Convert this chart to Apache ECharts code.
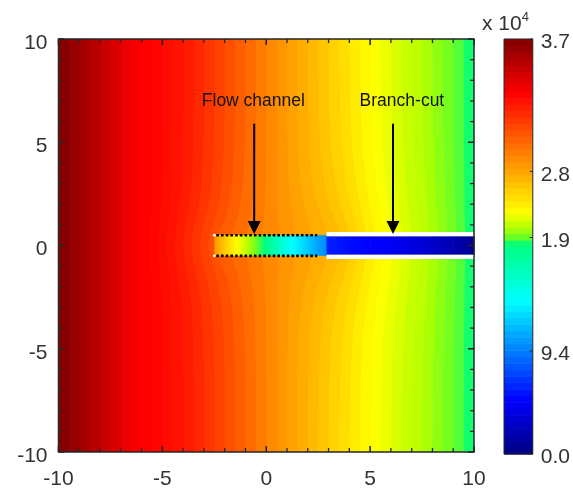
<!DOCTYPE html>
<html>
<head>
<meta charset="utf-8">
<title>Pressure field around a flow channel</title>
<script src="https://cdn.jsdelivr.net/npm/echarts@6/dist/echarts.min.js"></script>
<style>
  html, body { margin: 0; padding: 0; background: #ffffff; }
  #chart { width: 573px; height: 490px; }
</style>
</head>
<body>
<div id="chart"></div>
<script>
// Pressure field (x 10^4) around a flow channel ending in a branch-cut.

// Contour band edges far from the channel (x) and the pressure inside each band
const bandEdgeX = [-10, -9.5, -9, -8.5, -8, -7.5, -7, -6.5, -6, -5.5, -5, -4.5, -4, -3.5, -3, -2.5, -2, -1.5, -1, -0.5,
                   0, 0.5, 1, 1.5, 2, 2.5, 3, 3.5, 4, 4.5, 5, 5.5, 6, 6.5, 7, 7.5, 8, 8.5, 9, 9.5, 10];
const bandValue = [3.68, 3.62, 3.56, 3.49, 3.43, 3.36, 3.30, 3.24, 3.22, 3.20, 3.17, 3.14, 3.11, 3.06, 3.00, 2.94,
                   2.88, 2.82, 2.76, 2.70, 2.64, 2.59, 2.54, 2.49, 2.44, 2.39, 2.34, 2.29, 2.23, 2.18, 2.15, 2.12,
                   2.09, 2.06, 2.04, 2.01, 1.98, 1.95, 1.92, 1.88];

// Distance from the channel axis at which the contour bending is read
const bendY = [0, 0.5, 1, 1.5, 2, 3, 4.5, 6.5, 10];
// Contour edges that bend near the channel, and their x displacement at each bendY
const bentEdgeX = [-5.5, -5, -4.5, -4, -3.5, -3, -2.5, -2, -1.5, -1, -0.5, 0, 0.5, 1, 1.5, 2, 2.5, 3, 3.5, 4,
                   4.5, 5, 5.5, 6, 6.5, 7, 7.5, 8, 8.5, 9, 9.5];
const bentShift = [
  [-0.10, -0.10, -0.08, -0.06, -0.04, -0.02, 0.00, 0, 0],
  [-0.20, -0.18, -0.15, -0.12, -0.08, -0.04, -0.01, 0, 0],
  [-0.30, -0.28, -0.24, -0.18, -0.13, -0.06, -0.02, 0, 0],
  [-0.40, -0.38, -0.32, -0.25, -0.18, -0.08, -0.03, 0, 0],
  [-0.50, -0.47, -0.40, -0.31, -0.22, -0.10, -0.03, 0, 0],
  [-0.60, -0.56, -0.47, -0.36, -0.25, -0.12, -0.04, 0, 0],
  [-0.70, -0.63, -0.52, -0.40, -0.28, -0.13, -0.04, 0, 0],
  [-0.80, -0.72, -0.56, -0.42, -0.30, -0.14, -0.05, 0, 0],
  [-0.90, -0.86, -0.60, -0.42, -0.30, -0.14, -0.05, 0, 0],
  [-0.80, -0.72, -0.50, -0.36, -0.25, -0.12, -0.04, 0, 0],
  [-0.50, -0.45, -0.35, -0.26, -0.18, -0.08, -0.03, 0, 0],
  [-0.20, -0.20, -0.15, -0.10, -0.07, -0.03, -0.01, 0, 0],
  [0.10, 0.10, 0.08, 0.06, 0.04, 0.02, 0.00, 0.00, 0],
  [0.40, 0.40, 0.32, 0.24, 0.17, 0.08, 0.03, 0.00, 0],
  [0.70, 0.70, 0.58, 0.44, 0.32, 0.16, 0.05, 0.00, 0],
  [0.95, 0.95, 0.80, 0.62, 0.46, 0.24, 0.08, 0.02, 0],
  [1.05, 1.05, 0.90, 0.72, 0.55, 0.30, 0.12, 0.03, 0],
  [1.00, 1.00, 0.88, 0.72, 0.57, 0.33, 0.14, 0.04, 0],
  [0.90, 0.90, 0.80, 0.68, 0.55, 0.33, 0.15, 0.05, 0],
  [0.80, 0.80, 0.72, 0.62, 0.51, 0.32, 0.15, 0.05, 0],
  [0.72, 0.72, 0.65, 0.56, 0.47, 0.30, 0.15, 0.05, 0],
  [0.65, 0.65, 0.59, 0.51, 0.43, 0.28, 0.14, 0.05, 0],
  [0.58, 0.58, 0.53, 0.46, 0.39, 0.26, 0.13, 0.05, 0],
  [0.52, 0.52, 0.47, 0.41, 0.35, 0.24, 0.12, 0.04, 0],
  [0.46, 0.46, 0.42, 0.37, 0.31, 0.21, 0.11, 0.04, 0],
  [0.40, 0.40, 0.37, 0.32, 0.27, 0.19, 0.10, 0.04, 0],
  [0.34, 0.34, 0.31, 0.27, 0.23, 0.16, 0.08, 0.03, 0],
  [0.28, 0.28, 0.26, 0.23, 0.19, 0.13, 0.07, 0.03, 0],
  [0.22, 0.22, 0.20, 0.18, 0.15, 0.10, 0.05, 0.02, 0],
  [0.15, 0.15, 0.14, 0.12, 0.10, 0.07, 0.04, 0.01, 0],
  [0.08, 0.08, 0.07, 0.06, 0.05, 0.04, 0.02, 0.01, 0]
];

// Pressure along the flow channel
const chanX   = [-2.5, -2, -1.5, -1, -0.5, 0, 0.5, 1, 1.5, 2, 2.5, 2.9];
const chanVal = [2.59, 2.37, 2.18, 2.05, 1.94, 1.85, 1.63, 1.44, 1.31, 1.18, 1.04, 0.96];
const chanHalfWidth = 0.5;
const chanDotEnd = 2.45;

// Pressure along the branch-cut
const cutX   = [2.9, 4, 5, 6, 7, 8, 9, 10];
const cutVal = [0.59, 0.52, 0.48, 0.44, 0.37, 0.28, 0.19, 0.07];
const cutHalfWidth = 0.45;
const cutWallY = 0.55;

// Annotations
const noteText  = ['Flow channel', 'Branch-cut'];
const noteX     = [-0.62, 6.53];
const noteY     = [7.0, 7.0];
const arrowX    = [-0.58, 6.1];
const arrowTail = [5.9, 5.9];
const arrowTip  = [0.56, 0.56];

// Plot axes
const axisMin = -10, axisMax = 10, labelStep = 5, tickStep = 1;

// Colour bar ticks (x 10^4)
const cbMin = 0, cbMax = 3.7;
const cbTickAt   = [0, 0.92, 1.93, 2.52, 3.7];
const cbTickText = ['0.0', '9.4', '1.9', '2.8', '3.7'];
const cbSteps = 64;

// Colour map: stops in pressure units and their colours
const cmapAt  = [0, 0.481, 0.925, 1.369, 1.869, 1.931, 2.024, 2.157, 2.627, 3.219, 3.7];
const cmapRGB = [[0, 0, 128], [0, 0, 255], [0, 128, 255], [0, 255, 255], [0, 255, 128], [100, 255, 40],
                 [180, 255, 0], [255, 255, 0], [255, 140, 0], [255, 0, 0], [128, 0, 0]];

const FONT = '"Liberation Sans", Arial, sans-serif';
const INK = '#333333';
const FRAME = '#262626';

function colorOf(v) {
  const toStr = c => 'rgb(' + c.map(Math.round).join(',') + ')';
  if (v <= cmapAt[0]) return toStr(cmapRGB[0]);
  for (let i = 1; i < cmapAt.length; i++) {
    if (v <= cmapAt[i]) {
      const t = (v - cmapAt[i - 1]) / (cmapAt[i] - cmapAt[i - 1]);
      const a = cmapRGB[i - 1], b = cmapRGB[i];
      return toStr([0, 1, 2].map(j => a[j] + (b[j] - a[j]) * t));
    }
  }
  return toStr(cmapRGB[cmapRGB.length - 1]);
}

// Horizontal gradient from v0 to v1 that keeps the colour-map stops in between
function gradientOf(v0, v1) {
  const stops = [{ offset: 0, color: colorOf(v0) }];
  const lo = Math.min(v0, v1), hi = Math.max(v0, v1);
  cmapAt.forEach(c => {
    if (c > lo && c < hi) stops.push({ offset: (c - v0) / (v1 - v0), color: colorOf(c) });
  });
  stops.push({ offset: 1, color: colorOf(v1) });
  stops.sort((a, b) => a.offset - b.offset);
  return { type: 'linear', x: 0, y: 0, x2: 1, y2: 0, colorStops: stops };
}

// Points of contour edge e, from the bottom of the plot to the top
function edgePoints(e) {
  const x0 = bandEdgeX[e];
  const bi = bentEdgeX.indexOf(x0);
  const shift = i => (bi >= 0 ? bentShift[bi][i] : 0);
  const pts = [];
  for (let i = bendY.length - 1; i >= 0; i--) pts.push([x0 + shift(i), -bendY[i]]);
  for (let i = 1; i < bendY.length; i++) pts.push([x0 + shift(i), bendY[i]]);
  return pts;
}

function seg(x1, y1, x2, y2, width) {
  return { type: 'line', shape: { x1, y1, x2, y2 }, style: { stroke: FRAME, lineWidth: width, lineCap: 'butt' } };
}

const xRight = bandEdgeX[bandEdgeX.length - 1];
const yTop = bendY[bendY.length - 1];

const labelStyle = { fontFamily: FONT, fontSize: 21, color: INK };
const hidden = { axisLine: { show: false }, axisTick: { show: false }, splitLine: { show: false } };

const option = {
  animation: false,
  backgroundColor: '#ffffff',
  // Colour bar unit
  title: {
    text: '{b|x 10}{s|4}',
    left: 477, top: 6,
    textStyle: {
      fontWeight: 'normal',
      rich: {
        b: { fontFamily: FONT, fontSize: 21, fontWeight: 'normal', color: INK, lineHeight: 24, verticalAlign: 'bottom' },
        s: { fontFamily: FONT, fontSize: 13, fontWeight: 'normal', color: INK, lineHeight: 24, verticalAlign: 'top' }
      }
    }
  },
  grid: [
    { left: 58.5, right: 99, top: 39, bottom: 36 },
    { left: 504, right: 39, top: 39, bottom: 36 }
  ],
  xAxis: [
    Object.assign({ type: 'value', gridIndex: 0, min: axisMin, max: axisMax, interval: labelStep, position: 'bottom',
      axisLabel: Object.assign({ margin: 17 }, labelStyle) }, hidden),
    Object.assign({ type: 'value', gridIndex: 1, min: 0, max: 1, axisLabel: { show: false } }, hidden)
  ],
  yAxis: [
    Object.assign({ type: 'value', gridIndex: 0, min: axisMin, max: axisMax, interval: labelStep, position: 'left',
      axisLabel: Object.assign({ margin: 11, verticalAlign: 'top', lineHeight: 8 }, labelStyle) }, hidden),
    Object.assign({ type: 'value', gridIndex: 1, min: cbMin, max: cbMax, position: 'right',
      axisLabel: Object.assign({
        margin: 8, verticalAlign: 'top', lineHeight: 7, customValues: cbTickAt,
        formatter: v => {
          const i = cbTickAt.findIndex(t => Math.abs(t - v) < 1e-6);
          return i >= 0 ? cbTickText[i] : '';
        }
      }, labelStyle)
    }, hidden)
  ],
  series: [
    {
      // Filled contour bands: each band is painted from its left edge to the right border
      type: 'custom', name: 'pressure', xAxisIndex: 0, yAxisIndex: 0, z: 1, silent: true,
      data: bandValue.map((v, k) => [k, v]),
      renderItem(params, api) {
        const k = api.value(0);
        const pts = edgePoints(k).concat([[xRight, yTop], [xRight, -yTop]]).map(p => api.coord(p));
        return { type: 'polygon', shape: { points: pts }, style: { fill: colorOf(api.value(1)), stroke: null } };
      }
    },
    {
      type: 'custom', name: 'channel', xAxisIndex: 0, yAxisIndex: 0, z: 2, silent: true,
      data: chanX.slice(0, -1).map((x, i) => [x, chanX[i + 1], chanVal[i], chanVal[i + 1]]),
      renderItem(params, api) {
        const p0 = api.coord([api.value(0), chanHalfWidth]);
        const p1 = api.coord([api.value(1), -chanHalfWidth]);
        return { type: 'rect', shape: { x: p0[0], y: p0[1], width: p1[0] - p0[0] + 0.6, height: p1[1] - p0[1] },
                 style: { fill: gradientOf(api.value(2), api.value(3)) } };
      }
    },
    {
      type: 'custom', name: 'branch-cut', xAxisIndex: 0, yAxisIndex: 0, z: 2, silent: true,
      data: cutX.slice(0, -1).map((x, i) => [x, cutX[i + 1], cutVal[i], cutVal[i + 1]]),
      renderItem(params, api) {
        const p0 = api.coord([api.value(0), cutHalfWidth]);
        const p1 = api.coord([api.value(1), -cutHalfWidth]);
        return { type: 'rect', shape: { x: p0[0], y: p0[1], width: p1[0] - p0[0] + 0.6, height: p1[1] - p0[1] },
                 style: { fill: gradientOf(api.value(2), api.value(3)) } };
      }
    },
    {
      // Dotted channel walls
      type: 'custom', name: 'channel walls', xAxisIndex: 0, yAxisIndex: 0, z: 3, silent: true,
      data: [[chanX[0], chanDotEnd, chanHalfWidth], [chanX[0], chanDotEnd, -chanHalfWidth]],
      renderItem(params, api) {
        const a = api.coord([api.value(0), api.value(2)]);
        const b = api.coord([api.value(1), api.value(2)]);
        return { type: 'group', children: [
          { type: 'line', shape: { x1: a[0] + 2, y1: a[1], x2: b[0], y2: b[1] },
            style: { stroke: '#000000', lineWidth: 2.6, lineDash: [2.6, 2.1], lineCap: 'butt' } },
          { type: 'circle', shape: { cx: a[0], cy: a[1], r: 1.4 }, style: { fill: '#ffffff' } }
        ] };
      }
    },
    {
      // White walls of the branch-cut
      type: 'custom', name: 'branch-cut walls', xAxisIndex: 0, yAxisIndex: 0, z: 3, silent: true,
      data: [[cutX[0], cutX[cutX.length - 1], cutWallY], [cutX[0], cutX[cutX.length - 1], -cutWallY]],
      renderItem(params, api) {
        const a = api.coord([api.value(0), api.value(2)]);
        const b = api.coord([api.value(1), api.value(2)]);
        return { type: 'line', shape: { x1: a[0], y1: a[1], x2: b[0], y2: b[1] },
                 style: { stroke: '#ffffff', lineWidth: 4.2, lineCap: 'butt' } };
      }
    },
    {
      // Labels with arrows
      type: 'custom', name: 'notes', xAxisIndex: 0, yAxisIndex: 0, z: 4, silent: true,
      data: noteText.map((t, i) => [noteX[i], noteY[i], arrowX[i], arrowTail[i], arrowTip[i]]),
      renderItem(params, api) {
        const i = params.dataIndex;
        const t = api.coord([api.value(0), api.value(1)]);
        const tail = api.coord([api.value(2), api.value(3)]);
        const tip = api.coord([api.value(2), api.value(4)]);
        const headH = 13, headW = 6.5;
        return { type: 'group', children: [
          { type: 'text', x: t[0], y: t[1],
            style: { text: noteText[i], fontFamily: FONT, fontSize: 17.5, fill: '#111111',
                     align: 'center', verticalAlign: 'middle' } },
          { type: 'line', shape: { x1: tail[0], y1: tail[1], x2: tip[0], y2: tip[1] - headH + 1 },
            style: { stroke: '#000000', lineWidth: 2 } },
          { type: 'polygon', shape: { points: [[tip[0] - headW, tip[1] - headH], [tip[0] + headW, tip[1] - headH], [tip[0], tip[1]]] },
            style: { fill: '#000000' } }
        ] };
      }
    },
    {
      // Plot frame with inward ticks on all four sides
      type: 'custom', name: 'frame', xAxisIndex: 0, yAxisIndex: 0, z: 10, silent: true,
      data: [[axisMin, axisMin]],
      renderItem(params, api) {
        const tl = api.coord([axisMin, axisMax]);
        const br = api.coord([axisMax, axisMin]);
        const children = [{ type: 'rect', shape: { x: tl[0], y: tl[1], width: br[0] - tl[0], height: br[1] - tl[1] },
                            style: { fill: null, stroke: FRAME, lineWidth: 1.5 } }];
        for (let t = axisMin; t <= axisMax; t += tickStep) {
          const len = t % labelStep === 0 ? 6 : 4;
          const w = t % labelStep === 0 ? 1.6 : 1.3;
          const px = api.coord([t, 0])[0];
          const py = api.coord([0, t])[1];
          children.push(seg(px, br[1], px, br[1] - len, w));
          children.push(seg(px, tl[1], px, tl[1] + len, w));
          children.push(seg(tl[0], py, tl[0] + len, py, w));
          children.push(seg(br[0], py, br[0] - len, py, w));
        }
        return { type: 'group', children };
      }
    },
    {
      // Colour bar
      type: 'custom', name: 'colour bar', xAxisIndex: 1, yAxisIndex: 1, z: 1, silent: true,
      data: Array.from({ length: cbSteps }, (_, i) => [cbMin + (cbMax - cbMin) * i / cbSteps, cbMin + (cbMax - cbMin) * (i + 1) / cbSteps]),
      renderItem(params, api) {
        const lo = api.value(0), hi = api.value(1);
        const p0 = api.coord([0, hi]);
        const p1 = api.coord([1, lo]);
        return { type: 'rect', shape: { x: p0[0], y: p0[1], width: p1[0] - p0[0], height: p1[1] - p0[1] + 0.6 },
                 style: { fill: colorOf((lo + hi) / 2) } };
      }
    },
    {
      // Colour bar frame and ticks
      type: 'custom', name: 'colour bar frame', xAxisIndex: 1, yAxisIndex: 1, z: 10, silent: true,
      data: [[0, cbMin]],
      renderItem(params, api) {
        const tl = api.coord([0, cbMax]);
        const br = api.coord([1, cbMin]);
        const children = [{ type: 'rect', shape: { x: tl[0], y: tl[1], width: br[0] - tl[0], height: br[1] - tl[1] },
                            style: { fill: null, stroke: FRAME, lineWidth: 1 } }];
        cbTickAt.forEach(v => {
          const py = api.coord([1, v])[1];
          children.push(seg(br[0], py, br[0] - 3, py, 1));
        });
        return { type: 'group', children };
      }
    }
  ]
};

const chart = echarts.init(document.getElementById('chart'), null, { renderer: 'canvas' });
chart.setOption(option);
</script>
</body>
</html>
